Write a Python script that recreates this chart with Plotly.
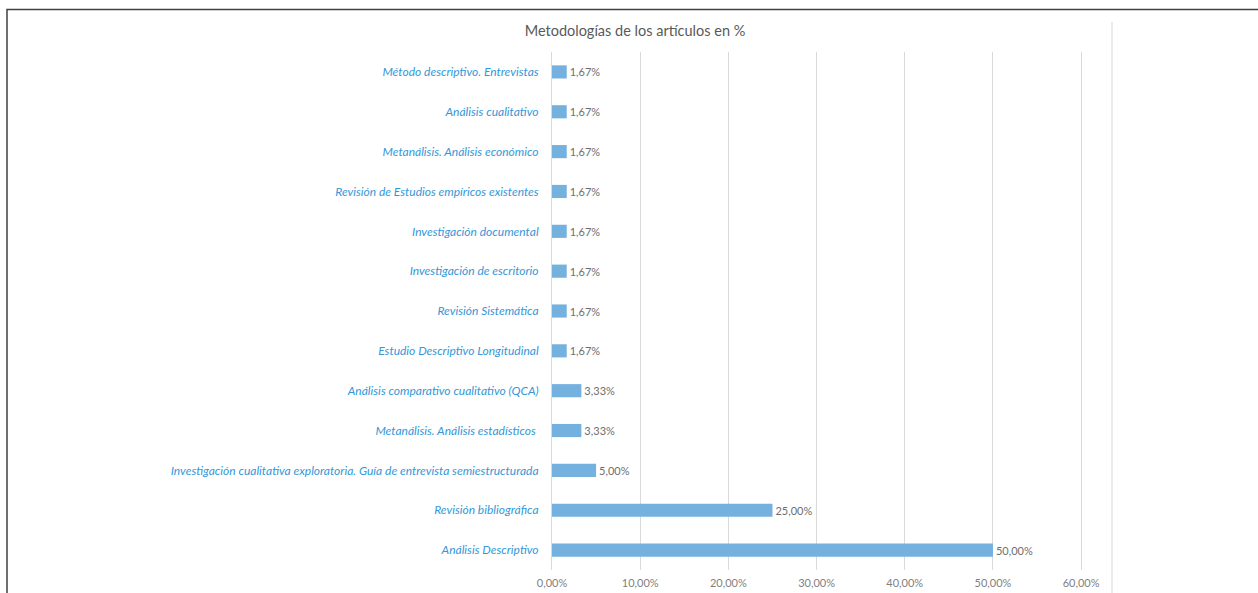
import plotly.graph_objects as go

categories = [
    "Análisis Descriptivo",
    "Revisión bibliográfica",
    "Investigación cualitativa exploratoria. Guía de entrevista semiestructurada",
    "Metanálisis. Análisis estadísticos ",
    "Análisis comparativo cualitativo (QCA)",
    "Estudio Descriptivo Longitudinal",
    "Revisión Sistemática",
    "Investigación de escritorio",
    "Investigación documental",
    "Revisión de Estudios empíricos existentes",
    "Metanálisis. Análisis económico",
    "Análisis cualitativo",
    "Método descriptivo. Entrevistas",
]
values = [50.00, 25.00, 5.00, 3.33, 3.33, 1.67, 1.67, 1.67, 1.67, 1.67, 1.67, 1.67, 1.67]
tick_values = [0, 10, 20, 30, 40, 50, 60]
tick_labels = [f"{v:.2f}%".replace(".", ",") for v in tick_values]
title_text = "Metodologías de los artículos en %"

W, H = 1258, 593
ML, MR, MT, MB = 552, 146, 52, 23

def px_to_paper_x(px):
    return (px - ML) / (W - ML - MR)

def py_to_paper_y(py):
    return (H - MB - py) / (H - MT - MB)

fig = go.Figure()
fig.add_trace(go.Bar(
    y=categories,
    x=values,
    orientation="h",
    marker=dict(color="#74B1DF", line=dict(width=0)),
    width=0.33,
    texttemplate="%{x:.2f}%",
    textposition="outside",
    textfont=dict(color="#6E6E6E", size=11, family="Lato"),
    cliponaxis=False,
    hoverinfo="skip",
))

fig.update_layout(
    width=W, height=H,
    margin=dict(l=ML, r=MR, t=MT, b=MB, pad=0, autoexpand=False),
    paper_bgcolor="white",
    plot_bgcolor="white",
    separators=",.",
    showlegend=False,
    title=dict(text=title_text, x=635 / W, xanchor="center", y=1 - 31 / H, yanchor="middle",
               xref="container", yref="container",
               font=dict(family="Lato", size=14.5, color="#595959")),
    xaxis=dict(range=[0, 63.5], tickvals=tick_values, ticktext=tick_labels,
               showgrid=True, gridcolor="#D9D9D9", gridwidth=1, zeroline=False,
               showline=False, ticks="", ticklabelstandoff=5, automargin=False,
               tickfont=dict(family="Lato", size=11, color="#7F7F7F")),
    yaxis=dict(categoryorder="array", categoryarray=categories, showgrid=False,
               showline=True, linecolor="#D9D9D9", linewidth=1, ticks="", ticklen=0,
               ticklabelstandoff=10,
               tickfont=dict(family="Lato", size=12, color="#3397D8", style="italic"),
               automargin=False),
    bargap=0.67,
)

# vertical line on the right of the plot area
fig.add_shape(type="line", xref="paper", yref="paper",
              x0=1.0, x1=1.0, y0=py_to_paper_y(H + 5), y1=py_to_paper_y(22),
              line=dict(color="#D9D9D9", width=1))
# outer frame
fig.add_shape(type="rect", xref="paper", yref="paper",
              x0=px_to_paper_x(7), x1=px_to_paper_x(W + 10),
              y0=py_to_paper_y(H + 10), y1=py_to_paper_y(9.5),
              line=dict(color="#404040", width=1.5), fillcolor="rgba(0,0,0,0)")

fig.write_html("out.html", config={"displayModeBar": False},
               post_script="document.body.style.margin='0';document.body.style.overflow='hidden';")
